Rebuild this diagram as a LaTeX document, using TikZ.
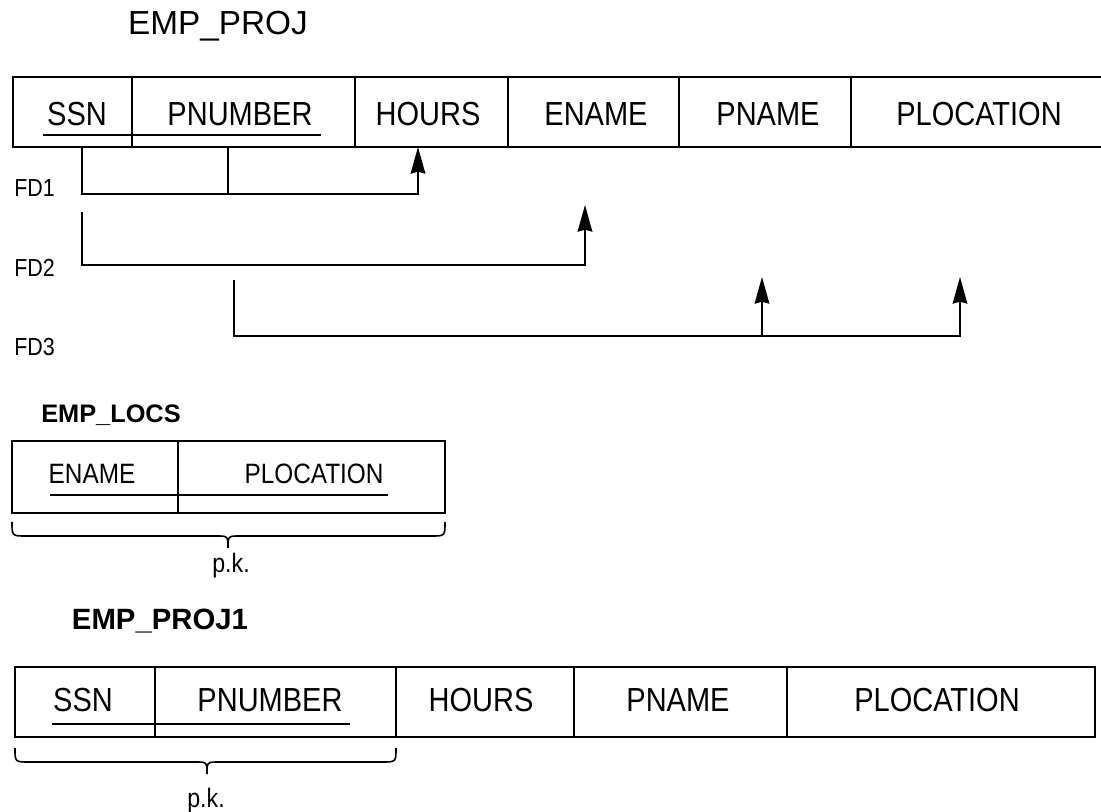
\documentclass[tikz,border=0pt]{standalone}
\usepackage{fontspec}
\setmainfont{Liberation Sans}
\newfontfamily\cnd[FakeStretch=0.87]{Liberation Sans}
\usetikzlibrary{arrows.meta}
\begin{document}
\begin{tikzpicture}[x=0.75pt,y=-0.75pt,
  frame/.style={line width=1.4pt},
  conn/.style={line width=1.4pt},
  arr/.style={conn,-{Stealth[length=20pt,width=11pt,inset=1.5pt]}},
  uline/.style={line width=1.1pt},
  attr/.style={inner sep=0pt,anchor=base,font=\cnd\fontsize{25pt}{28pt}\selectfont},
  sattr/.style={inner sep=0pt,anchor=base,font=\cnd\fontsize{21pt}{24pt}\selectfont},
  title/.style={inner sep=0pt,anchor=base,font=\fontsize{25pt}{28pt}\selectfont},
  btitle/.style={inner sep=0pt,anchor=base,font=\fontsize{19pt}{22pt}\selectfont\bfseries},
  fdlab/.style={inner sep=0pt,anchor=base west,font=\cnd\fontsize{18.5pt}{21pt}\selectfont},
  pk/.style={inner sep=0pt,anchor=base,font=\cnd\fontsize{20pt}{23pt}\selectfont}]
\useasboundingbox (0,0) rectangle (1101,812);

% ---------- EMP_PROJ ----------
\node[title] (t1) at (218,35) {EMP\_PROJ};
\draw[frame] (1101,77) -- (13,77) -- (13,147) -- (1101,147);
\foreach \x in {132,355,508,679,851} \draw[frame] (\x,77) -- (\x,147);
\node[attr] (ssn)   at (77,126)  {SSN};
\node[attr] (pnum)  at (240,126) {PNUMBER};
\node[attr] (hours) at (428,126) {HOURS};
\node[attr] (ename) at (596,126) {ENAME};
\node[attr] (pname) at (768,126) {PNAME};
\node[attr] (ploc)  at (979,126) {PLOCATION};
\draw[uline] (43,135) -- (321,135);

% FD coordinates
\coordinate (a1) at (82,147);
\coordinate (a2) at (228,147);
\coordinate (a3) at (418,147);
\coordinate (b1) at (82,212);
\coordinate (b2) at (585,205);
\coordinate (c1) at (234,280);
\coordinate (c2) at (762,277);
\coordinate (c3) at (960,277);
\coordinate (h1) at (762,336);

\node[fdlab] (fd1) at (14,197) {FD1};
\node[fdlab] (fd2) at (14,277) {FD2};
\node[fdlab] (fd3) at (14,356) {FD3};

\draw[arr] (a1) |- (418,194) -- (a3);
\draw[conn] (a2) -- (228,194);
\draw[arr] (b1) |- (585,265) -- (b2);
\draw[arr] (c1) |- (960,336) -- (c3);
\draw[arr] (h1) -- (c2);

% ---------- EMP_LOCS ----------
\node[btitle] (t2) at (111,423) {EMP\_LOCS};
\draw[frame] (12,441) rectangle (445,513);
\draw[frame] (178,441) -- (178,513);
\node[sattr] (lename) at (92,484)  {ENAME};
\node[sattr] (lploc)  at (314,484) {PLOCATION};
\draw[uline] (50,495) -- (388,495);
\draw[conn,line width=1.2pt] (12,522) .. controls (12,536) .. (26,536) -- (216,536)
   .. controls (228,536) .. (228,548) .. controls (228,536) .. (240,536) -- (431,536)
   .. controls (445,536) .. (445,522);
\node[pk] (pk1) at (231,573) {p.k.};

% ---------- EMP_PROJ1 ----------
\node[btitle,font=\fontsize{22pt}{26pt}\selectfont\bfseries] (t3) at (160,630) {EMP\_PROJ1};
\draw[frame] (15,667) rectangle (1095,737);
\foreach \x in {155,396,574,787} \draw[frame] (\x,667) -- (\x,737);
\node[attr] (bssn)   at (83,712)  {SSN};
\node[attr] (bpnum)  at (270,712) {PNUMBER};
\node[attr] (bhours) at (481,712) {HOURS};
\node[attr] (bpname) at (678,712) {PNAME};
\node[attr] (bploc)  at (937,712) {PLOCATION};
\draw[uline] (52,724) -- (350,724);
\draw[conn,line width=1.2pt] (15,748) .. controls (15,762) .. (29,762) -- (195,762)
   .. controls (207,762) .. (207,774) .. controls (207,762) .. (219,762) -- (382,762)
   .. controls (396,762) .. (396,748);
\node[pk] (pk2) at (206,808) {p.k.};
\end{tikzpicture}
\end{document}
